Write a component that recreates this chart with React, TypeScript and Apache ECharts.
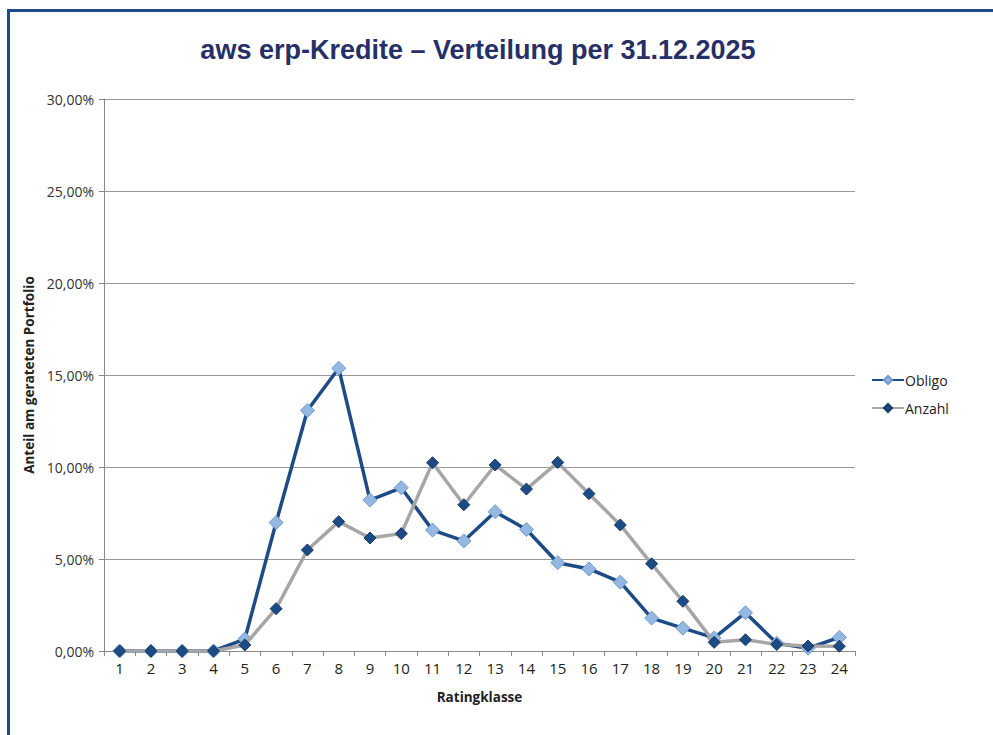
import React, { useEffect, useRef } from "react";
import * as echarts from "echarts";

const categories = ["1","2","3","4","5","6","7","8","9","10","11","12","13","14","15","16","17","18","19","20","21","22","23","24"];
const obligo = [0, 0, 0, 0, 0.65, 6.98, 13.07, 15.37, 8.2, 8.87, 6.57, 5.98, 7.57, 6.6, 4.8, 4.46, 3.74, 1.79, 1.24, 0.71, 2.08, 0.42, 0.15, 0.74];
const anzahl = [0, 0, 0, 0, 0.33, 2.3, 5.49, 7.03, 6.14, 6.38, 10.23, 7.95, 10.11, 8.8, 10.25, 8.55, 6.85, 4.74, 2.7, 0.47, 0.61, 0.36, 0.27, 0.26];
const yTicks = [0, 5, 10, 15, 20, 25, 30];

const fmt = (v: number) => v.toFixed(2).replace(".", ",") + "%";

export default function App() {
  const ref = useRef<HTMLDivElement>(null);
  useEffect(() => {
    if (!ref.current) return;
    const chart = echarts.init(ref.current, null, { renderer: "svg" });
    const font = "'Open Sans', 'Liberation Sans', sans-serif";
    chart.setOption({
      animation: false,
      backgroundColor: "#ffffff",
      title: {
        text: "aws erp-Kredite – Verteilung per 31.12.2025",
        left: 473,
        textAlign: "center",
        top: 31,
        textStyle: { fontFamily: "'Liberation Sans', Arial, sans-serif", fontWeight: "bold", fontSize: 27, color: "#262f66" },
      },
      graphic: [
        { type: "rect", shape: { x: 7, y: 9, width: 986, height: 3 }, style: { fill: "#1f4a8c" } },
        { type: "rect", shape: { x: 7, y: 9, width: 3, height: 726 }, style: { fill: "#1f4a8c" } },
      ],
      legend: {
        orient: "vertical",
        left: 866,
        top: 368,
        itemGap: 14,
        itemWidth: 32,
        itemHeight: 10,
        textStyle: { fontFamily: font, fontSize: 14, color: "#222", padding: [0, 0, 0, -4] },
        data: ["Obligo", "Anzahl"],
      },
      grid: { left: 104, right: 138, top: 99, bottom: 84, containLabel: false },
      xAxis: {
        type: "category",
        data: categories,
        boundaryGap: true,
        name: "Ratingklasse",
        nameLocation: "middle",
        nameGap: 39,
        nameTextStyle: { fontFamily: font, fontWeight: "bold", fontSize: 13.5, color: "#222" },
        axisLine: { lineStyle: { color: "#888", width: 1 } },
        axisTick: { show: true, length: 5, lineStyle: { color: "#888" } },
        axisLabel: { fontFamily: font, fontSize: 15, color: "#222", margin: 9, interval: 0 },
      },
      yAxis: {
        type: "value",
        min: 0,
        max: 30,
        interval: 5,
        name: "Anteil am gerateten Portfolio",
        nameLocation: "middle",
        nameGap: 68,
        nameTextStyle: { fontFamily: font, fontWeight: "bold", fontSize: 13.5, color: "#222" },
        axisLine: { show: true, lineStyle: { color: "#888", width: 1 } },
        axisTick: { show: true, length: 5, lineStyle: { color: "#888" } },
        axisLabel: {
          fontFamily: font,
          fontSize: 14,
          color: "#333",
          margin: 10,
          formatter: (v: number) => (yTicks.includes(v) ? fmt(v) : ""),
        },
        splitLine: { lineStyle: { color: "#999", width: 1.2 } },
      },
      series: [
        {
          name: "Obligo",
          type: "line",
          data: obligo,
          symbol: "diamond",
          symbolSize: 14,
          z: 2,
          lineStyle: { color: "#1d4b85", width: 3.5 },
          itemStyle: { color: "#95b8e3", borderColor: "#6f9bd0", borderWidth: 1 },
        },
        {
          name: "Anzahl",
          type: "line",
          data: anzahl,
          symbol: "diamond",
          symbolSize: 12,
          z: 3,
          lineStyle: { color: "#a6a6a6", width: 3.5 },
          itemStyle: { color: "#1d4b85", borderColor: "#163a66", borderWidth: 1 },
        },
      ],
    });
    return () => chart.dispose();
  }, []);
  return (
    <div
      ref={ref}
      style={{ position: "fixed", left: 0, top: 0, width: 993, height: 735, background: "#fff" }}
    />
  );
}
